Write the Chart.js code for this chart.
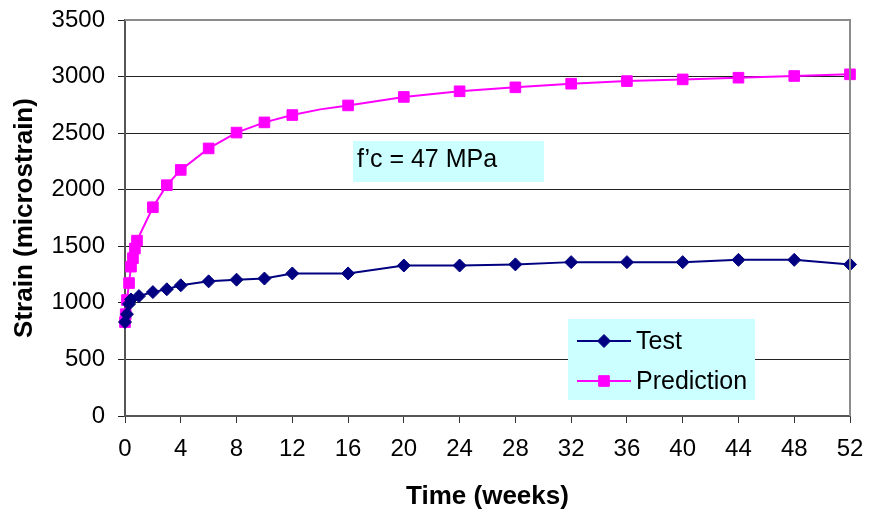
<!DOCTYPE html>
<html>
<head>
<meta charset="utf-8">
<script src="https://cdn.jsdelivr.net/npm/chart.js@4/dist/chart.umd.min.js"></script>
<style>
html,body{margin:0;padding:0;background:#fff;}
#wrap{width:869px;height:516px;}
</style>
</head>
<body>
<div id="wrap"><canvas id="c" width="869" height="516"></canvas></div>
<script>
// ---- data ----
const testWeeks = [0, 0.14, 0.29, 0.43, 1, 2, 3, 4, 6, 8, 10, 12, 16, 20, 24, 28, 32, 36, 40, 44, 48, 52];
const testStrain = [830, 900, 990, 1030, 1060, 1095, 1120, 1155, 1190, 1205, 1215, 1260, 1260, 1330, 1330, 1340, 1360, 1360, 1360, 1380, 1380, 1340];
const predWeeks = [0, 0.05, 0.14, 0.29, 0.43, 0.57, 0.71, 0.86, 2, 3, 4, 6, 8, 10, 12, 14, 16, 20, 24, 28, 32, 36, 40, 44, 48, 52];
const predStrain = [830, 900, 1025, 1175, 1320, 1395, 1480, 1550, 1845, 2040, 2175, 2365, 2505, 2595, 2660, 2710, 2745, 2820, 2870, 2905, 2937, 2960, 2975, 2990, 3005, 3020];
const predNoMarkerWeeks = [14];
const xTicks = [0, 4, 8, 12, 16, 20, 24, 28, 32, 36, 40, 44, 48, 52];
const yTicks = [0, 500, 1000, 1500, 2000, 2500, 3000, 3500];
const seriesNames = ['Test', 'Prediction'];
const annotationText = 'f\u2019c = 47 MPa';
const xTitle = 'Time (weeks)';
const yTitle = 'Strain (microstrain)';

const NAVY = '#000080', MAG = '#FF00FF', CYAN = '#CCFFFF';
const FONT = '"Liberation Sans", Arial, sans-serif';

const toPts = (xs, ys) => xs.map((x, i) => ({x: x, y: ys[i]}));

const decor = {
  id: 'decor',
  afterDraw(chart) {
    const ctx = chart.ctx, a = chart.chartArea;
    ctx.save();
    // top and right frame
    ctx.strokeStyle = '#8c8c8c';
    ctx.lineWidth = 2;
    ctx.beginPath();
    ctx.moveTo(a.left, a.top);
    ctx.lineTo(a.right, a.top);
    ctx.lineTo(a.right, a.bottom);
    ctx.stroke();
    // annotation box
    ctx.fillStyle = CYAN;
    ctx.fillRect(353, 141, 191, 41);
    ctx.fillStyle = '#000';
    ctx.font = '25px ' + FONT;
    ctx.textBaseline = 'middle';
    ctx.textAlign = 'left';
    ctx.fillText(annotationText, 357, 160);
    // legend box
    ctx.fillStyle = CYAN;
    ctx.fillRect(568, 319, 187, 81);
    const items = [
      {name: seriesNames[0], color: NAVY, style: 'rectRot', r: 6.5, y: 341},
      {name: seriesNames[1], color: MAG, style: 'rect', r: 7.5, y: 381}
    ];
    items.forEach(it => {
      ctx.strokeStyle = it.color;
      ctx.lineWidth = 2;
      ctx.beginPath();
      ctx.moveTo(577, it.y);
      ctx.lineTo(631, it.y);
      ctx.stroke();
      ctx.fillStyle = it.color;
      ctx.lineWidth = 1;
      Chart.helpers.drawPoint(ctx, {pointStyle: it.style, rotation: 0, radius: it.r, borderWidth: 1}, 604, it.y);
      ctx.fillStyle = '#000';
      ctx.font = '25px ' + FONT;
      ctx.textBaseline = 'middle';
      ctx.fillText(it.name, 636, it.y + 1);
    });
    ctx.restore();
  }
};

new Chart(document.getElementById('c'), {
  type: 'scatter',
  data: {
    datasets: [
      {
        label: seriesNames[0],
        data: toPts(testWeeks, testStrain),
        showLine: true,
        borderColor: NAVY,
        backgroundColor: NAVY,
        borderWidth: 2,
        pointStyle: 'rectRot',
        pointRadius: 6.5,
        pointBorderWidth: 1,
        pointHoverRadius: 6.5,
        tension: 0,
        clip: false
      },
      {
        label: seriesNames[1],
        data: toPts(predWeeks, predStrain),
        showLine: true,
        borderColor: MAG,
        backgroundColor: MAG,
        borderWidth: 2,
        pointStyle: 'rect',
        pointRadius: c => predNoMarkerWeeks.includes(predWeeks[c.dataIndex]) ? 0 : 7.5,
        pointBorderWidth: 1,
        pointHoverRadius: 7.5,
        tension: 0,
        clip: false
      }
    ]
  },
  options: {
    responsive: false,
    animation: false,
    devicePixelRatio: 1,
    layout: {padding: {top: 20, right: 19, left: 0, bottom: 0}},
    plugins: {legend: {display: false}, tooltip: {enabled: false}},
    scales: {
      x: {
        type: 'linear',
        min: xTicks[0],
        max: xTicks[xTicks.length - 1],
        afterBuildTicks: s => { s.ticks = xTicks.map(v => ({value: v})); },
        afterFit: s => { s.height = 100; s.paddingLeft = 0; s.paddingRight = 10; },
        grid: {drawOnChartArea: false, drawTicks: true, tickLength: 7, color: '#333', lineWidth: 1},
        border: {display: true, color: '#555', width: 2},
        ticks: {color: '#000', font: {family: FONT, size: 24}, padding: 12, maxRotation: 0, autoSkip: false, callback: v => String(v)},
        title: {display: true, text: xTitle, color: '#000', font: {family: FONT, size: 26, weight: 'bold'}, padding: {top: 0, bottom: 4}}
      },
      y: {
        type: 'linear',
        min: yTicks[0],
        max: yTicks[yTicks.length - 1],
        afterBuildTicks: s => { s.ticks = yTicks.map(v => ({value: v})); },
        afterFit: s => { s.width = 125; s.paddingTop = 10; s.paddingBottom = 10; },
        grid: {drawOnChartArea: true, drawTicks: true, tickLength: 7, color: '#222', lineWidth: 1},
        border: {display: true, color: '#555', width: 2},
        ticks: {color: '#000', font: {family: FONT, size: 24}, padding: 13, autoSkip: false, callback: v => String(v)},
        title: {display: true, text: yTitle, color: '#000', font: {family: FONT, size: 26, weight: 'bold'}, padding: {top: 9, bottom: 0}}
      }
    }
  },
  plugins: [decor]
});
</script>
</body>
</html>
